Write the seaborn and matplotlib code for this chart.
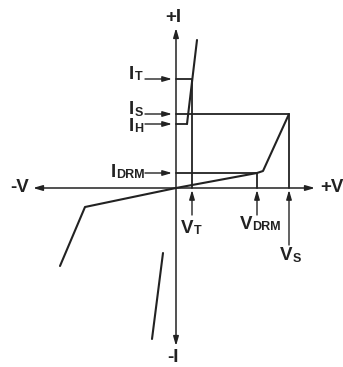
import matplotlib
matplotlib.use("Agg")
import matplotlib.pyplot as plt
import seaborn as sns

# values (arbitrary units, origin at the axes crossing)
forward_v = [0, 81, 87, 113]      # off-state / breakover branch
forward_i = [0, 15, 17, 74]
on_v = [11, 21]                   # on-state branch (first quadrant)
on_i = [64, 148]
reverse_v = [0, -91, -116]        # reverse blocking branch
reverse_i = [0, -19, -78]
rev_on_v = [-13, -24]             # on-state branch (third quadrant)
rev_on_i = [-65, -151]

V_T, I_T = 16, 109
V_S, I_S = 113, 74
V_DRM, I_DRM = 81, 15
I_H = 64

v_axis = [-143, 139]
i_axis = [-158, 160]

ink = "#222222"

sns.set_theme(style="white")
plt.rcParams['font.family'] = ['Liberation Sans', 'DejaVu Sans']
plt.rcParams['font.weight'] = 'bold'

fig = plt.figure(figsize=(3.43, 3.67), dpi=100)
ax = fig.add_axes([0, 0, 1, 1])
ax.set_xlim(-176, 167)
ax.set_ylim(-179, 188)
ax.axis('off')


def seg(x, y, lw=1.5):
    sns.lineplot(x=x, y=y, sort=False, estimator=None, color=ink, lw=lw, ax=ax)


def arrow(x0, y0, x1, y1, style='-|>', lw=1.0):
    ax.annotate('', xy=(x1, y1), xytext=(x0, y0),
                arrowprops=dict(arrowstyle=style + ',head_length=0.55,head_width=0.16',
                                color=ink, lw=lw, shrinkA=0, shrinkB=0,
                                mutation_scale=10))


def label(x, y, main, sub):
    # main letter ends at x, subscript starts there, both on (almost) the same baseline
    ax.text(x, y, main, fontsize=13.5, ha='right', va='baseline', color=ink)
    ax.text(x + 0.5, y - 1.5, sub, fontsize=9, ha='left', va='baseline', color=ink)


# axes with arrow heads
arrow(v_axis[0], 0, v_axis[1], 0, style='<|-|>', lw=1.1)
arrow(0, i_axis[0], 0, i_axis[1], style='<|-|>', lw=1.1)

# characteristic curves
seg(forward_v, forward_i)
seg(on_v, on_i)
seg(reverse_v, reverse_i)
seg(rev_on_v, rev_on_i)

# guide lines
seg([0, on_v[0]], [I_H, I_H], lw=1.3)
seg([0, V_T, V_T], [I_T, I_T, 0], lw=1.3)
seg([0, V_S, V_S], [I_S, I_S, 0], lw=1.3)
seg([0, V_DRM, V_DRM], [I_DRM, I_DRM, 0], lw=1.3)

# current markers
for lvl in [I_T, I_S, I_H, I_DRM]:
    arrow(-31, lvl, -4, lvl)
# voltage markers
arrow(V_T, -27, V_T, -2)
arrow(V_DRM, -27, V_DRM, -2)
arrow(V_S, -57, V_S, -2)

fs = 13.5
ax.text(-3, 171, '+I', fontsize=fs, ha='center', va='center', color=ink)
ax.text(-3, -178, '-I', fontsize=fs, ha='center', va='bottom', color=ink)
ax.text(-156, 1, '-V', fontsize=fs, ha='center', va='center', color=ink)
ax.text(156, 1, '+V', fontsize=fs, ha='center', va='center', color=ink)

label(-42, 109, 'I', 'T')
label(-42, 74, 'I', 'S')
label(-42, 57, 'I', 'H')
label(-60, 11, 'I', 'DRM')

label(17.5, -45, 'V', 'T')
label(76, -41, 'V', 'DRM')
label(116, -72, 'V', 'S')

fig.savefig('out.png', dpi=100)
